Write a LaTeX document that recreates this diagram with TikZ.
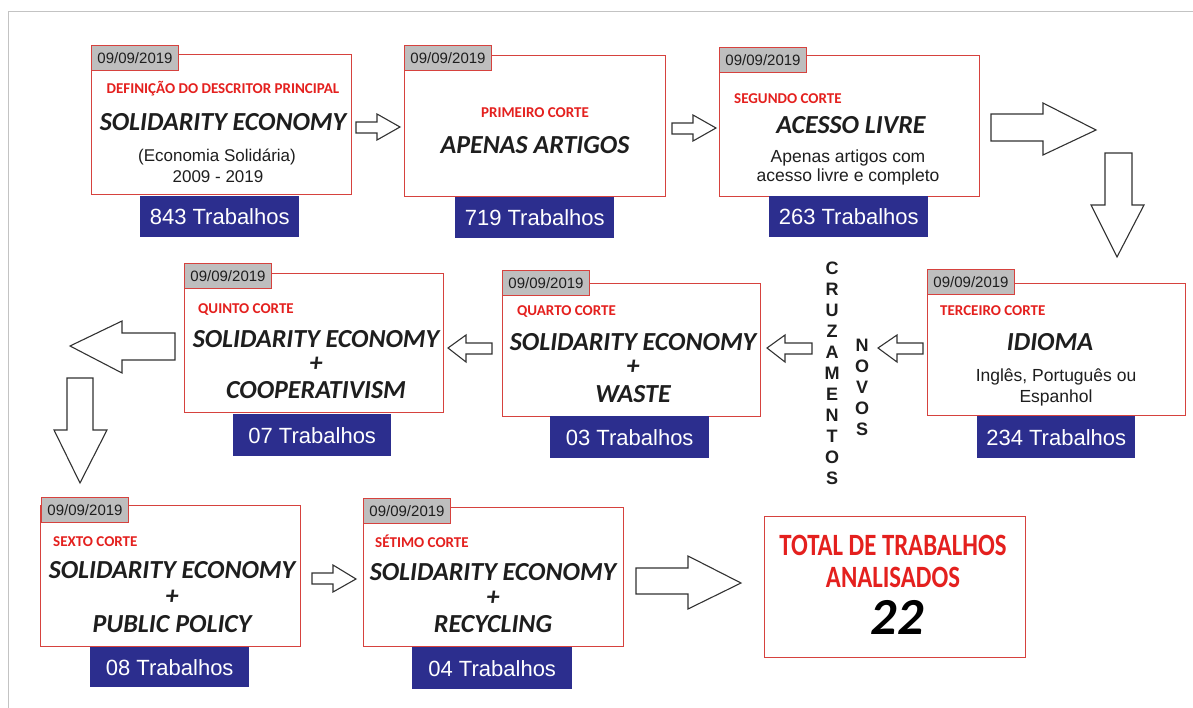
\documentclass[tikz,border=0pt]{standalone}
\usepackage{fontspec}
\usepackage{graphicx}
\setmainfont{Liberation Sans}
\newfontfamily\carl{Carlito}
\definecolor{boxred}{RGB}{214,66,62}
\definecolor{lblred}{RGB}{228,32,30}
\definecolor{tabgray}{RGB}{190,190,190}
\definecolor{navy}{RGB}{44,46,142}
\definecolor{txtdark}{RGB}{30,30,30}
\definecolor{arrgray}{RGB}{50,50,50}
\definecolor{framegray}{RGB}{195,195,195}
\tikzset{
  rbox/.style={draw=boxred, line width=1.1pt, fill=white, inner sep=0pt, anchor=north west},
  tab/.style={draw=boxred, line width=1pt, fill=tabgray, inner sep=0pt, anchor=north west,
    minimum width=87pt, minimum height=25pt, font=\fontsize{15}{15}\selectfont, text=txtdark},
  cnt/.style={fill=navy, text=white, inner sep=0pt, anchor=north west,
    minimum width=159pt, minimum height=41pt, font=\fontsize{22}{22}\selectfont},
  lbl/.style={text=lblred, font=\carl\bfseries\fontsize{15}{15}\selectfont, anchor=base west, inner sep=0pt},
  ttl/.style={text=txtdark, font=\carl\bfseries\itshape\fontsize{26}{26}\selectfont, anchor=base, inner sep=0pt},
  sub/.style={text=txtdark, font=\fontsize{17.5}{17.5}\selectfont, anchor=base, inner sep=0pt},
  barr/.style={draw=arrgray, line width=1.1pt, fill=white, line join=miter},
  vert/.style={text=txtdark, font=\bfseries\fontsize{18}{21}\selectfont, align=center, inner sep=0pt},
  totl/.style={anchor=base, inner sep=0pt, text=lblred, font=\carl\bfseries\fontsize{31}{31}\selectfont},
}
\begin{document}
\begin{tikzpicture}[x=1pt,y=-1pt]
\useasboundingbox[fill=white] (0,0) rectangle (1193,708);
\draw[framegray, line width=1pt] (8,708) -- (8,12) -- (1193,12);

% ---------- Row 1 ----------
\node[rbox, minimum width=260pt, minimum height=140pt] (b1) at (91,54) {};
\node[tab] (t1) at (91,45) {09/09/2019};
\node[cnt] (c1) at (140,196) {843 Trabalhos};
\node[lbl, anchor=base] (l1) at (223,94) {DEFINIÇÃO DO DESCRITOR PRINCIPAL};
\node[ttl] (h1) at (223,131) {SOLIDARITY ECONOMY};
\node[sub, font=\fontsize{17}{17}\selectfont] (s1a) at (217,162) {(Economia Solidária)};
\node[sub, font=\fontsize{17}{17}\selectfont] (s1b) at (218,183) {2009 - 2019};

\node[rbox, minimum width=261pt, minimum height=141pt] (b2) at (404,55) {};
\node[tab] (t2) at (404,45) {09/09/2019};
\node[cnt] (c2) at (455,197) {719 Trabalhos};
\node[lbl] (l2) at (481,118) {PRIMEIRO CORTE};
\node[ttl] (h2) at (535,154) {APENAS ARTIGOS};

\node[rbox, minimum width=260pt, minimum height=141pt] (b3) at (719,55) {};
\node[tab] (t3) at (719,47) {09/09/2019};
\node[cnt] (c3) at (769,196) {263 Trabalhos};
\node[lbl] (l3) at (734,104) {SEGUNDO CORTE};
\node[ttl] (h3) at (851,134) {ACESSO LIVRE};
\node[sub] (s3a) at (848,163) {Apenas artigos com};
\node[sub] (s3b) at (848,182) {acesso livre e completo};

% ---------- Row 2 ----------
\node[rbox, minimum width=258pt, minimum height=132pt] (b4) at (927,283) {};
\node[tab] (t4) at (927,269) {09/09/2019};
\node[cnt, minimum width=158pt, minimum height=42pt] (c4) at (977,416) {234 Trabalhos};
\node[lbl] (l4) at (940,316) {TERCEIRO CORTE};
\node[ttl] (h4) at (1050,350) {IDIOMA};
\node[sub] (s4a) at (1056,381) {Inglês, Português ou};
\node[sub] (s4b) at (1056,402) {Espanhol};

\node[rbox, minimum width=258pt, minimum height=133pt] (b5) at (502,283) {};
\node[tab] (t5) at (502,270) {09/09/2019};
\node[cnt, minimum height=42pt] (c5) at (550,416) {03 Trabalhos};
\node[lbl] (l5) at (517,316) {QUARTO CORTE};
\node[ttl] (h5a) at (633,350) {SOLIDARITY ECONOMY};
\node[ttl] (h5b) at (633,374) {+};
\node[ttl] (h5c) at (633,402) {WASTE};

\node[rbox, minimum width=259pt, minimum height=139pt] (b6) at (184,273) {};
\node[tab] (t6) at (184,263) {09/09/2019};
\node[cnt, minimum width=158pt, minimum height=42pt] (c6) at (233,414) {07 Trabalhos};
\node[lbl] (l6) at (198,314) {QUINTO CORTE};
\node[ttl] (h6a) at (316,347) {SOLIDARITY ECONOMY};
\node[ttl] (h6b) at (316,371) {+};
\node[ttl] (h6c) at (316,398) {COOPERATIVISM};

\node[vert] (cz) at (832,373) {C\\R\\U\\Z\\A\\M\\E\\N\\T\\O\\S};
\node[vert] (nv) at (862,387) {N\\O\\V\\O\\S};

% ---------- Row 3 ----------
\node[rbox, minimum width=260pt, minimum height=141pt] (b7) at (40,505) {};
\node[tab] (t7) at (41,497) {09/09/2019};
\node[cnt, minimum height=40pt] (c7) at (90,647) {08 Trabalhos};
\node[lbl] (l7) at (53,546) {SEXTO CORTE};
\node[ttl] (h7a) at (172,578) {SOLIDARITY ECONOMY};
\node[ttl] (h7b) at (172,604) {+};
\node[ttl] (h7c) at (172,632) {PUBLIC POLICY};

\node[rbox, minimum width=260pt, minimum height=139pt] (b8) at (363,507) {};
\node[tab] (t8) at (363,498) {09/09/2019};
\node[cnt, minimum width=160pt, minimum height=42pt] (c8) at (412,647) {04 Trabalhos};
\node[lbl] (l8) at (375,547) {SÉTIMO CORTE};
\node[ttl] (h8a) at (493,580) {SOLIDARITY ECONOMY};
\node[ttl] (h8b) at (493,605) {+};
\node[ttl] (h8c) at (493,632) {RECYCLING};

\node[rbox, minimum width=261pt, minimum height=141pt] (tot) at (764,516) {};
\node[totl] (tt1) at (893,555) {\scalebox{0.8}[1]{TOTAL DE TRABALHOS}};
\node[totl] (tt2) at (893,587) {\scalebox{0.8}[1]{ANALISADOS}};
\node[anchor=base, inner sep=0pt, text=black, font=\carl\bfseries\itshape\fontsize{52}{52}\selectfont] (tt3) at (897,634) {22};

% ---------- Block arrows ----------
% small right b1 -> b2
\draw[barr] (356,122) -- (377,122) -- (377,114) -- (400,127) -- (377,140) -- (377,133) -- (356,133) -- cycle;
% small right b2 -> b3
\draw[barr] (672,123) -- (693,123) -- (693,115) -- (716,128) -- (693,141) -- (693,134) -- (672,134) -- cycle;
% big right
\draw[barr] (991,114) -- (1043,114) -- (1043,103) -- (1096,130) -- (1043,155) -- (1043,141) -- (991,141) -- cycle;
% big down
\draw[barr] (1105,153) -- (1132,153) -- (1132,205) -- (1144,205) -- (1117,257) -- (1091,205) -- (1105,205) -- cycle;
% small left b4 -> novos
\draw[barr] (923,343) -- (897,343) -- (897,335) -- (878,348) -- (897,362) -- (897,354) -- (923,354) -- cycle;
% small left cruz -> b5
\draw[barr] (812,343) -- (785,343) -- (785,335) -- (767,348) -- (785,362) -- (785,354) -- (812,354) -- cycle;
% small left b5 -> b6
\draw[barr] (492,343) -- (466,343) -- (466,335) -- (448,348) -- (466,362) -- (466,354) -- (492,354) -- cycle;
% big left
\draw[barr] (175,333) -- (122,333) -- (122,321) -- (70,346) -- (122,373) -- (122,360) -- (175,360) -- cycle;
% big down left
\draw[barr] (67,378) -- (93,378) -- (93,430) -- (107,430) -- (80,483) -- (54,430) -- (67,430) -- cycle;
% small right b7 -> b8
\draw[barr] (312,573) -- (333,573) -- (333,565) -- (356,579) -- (333,592) -- (333,584) -- (312,584) -- cycle;
% big right to total
\draw[barr] (636,568) -- (688,568) -- (688,556) -- (741,583) -- (688,609) -- (688,594) -- (636,594) -- cycle;
\end{tikzpicture}
\end{document}
